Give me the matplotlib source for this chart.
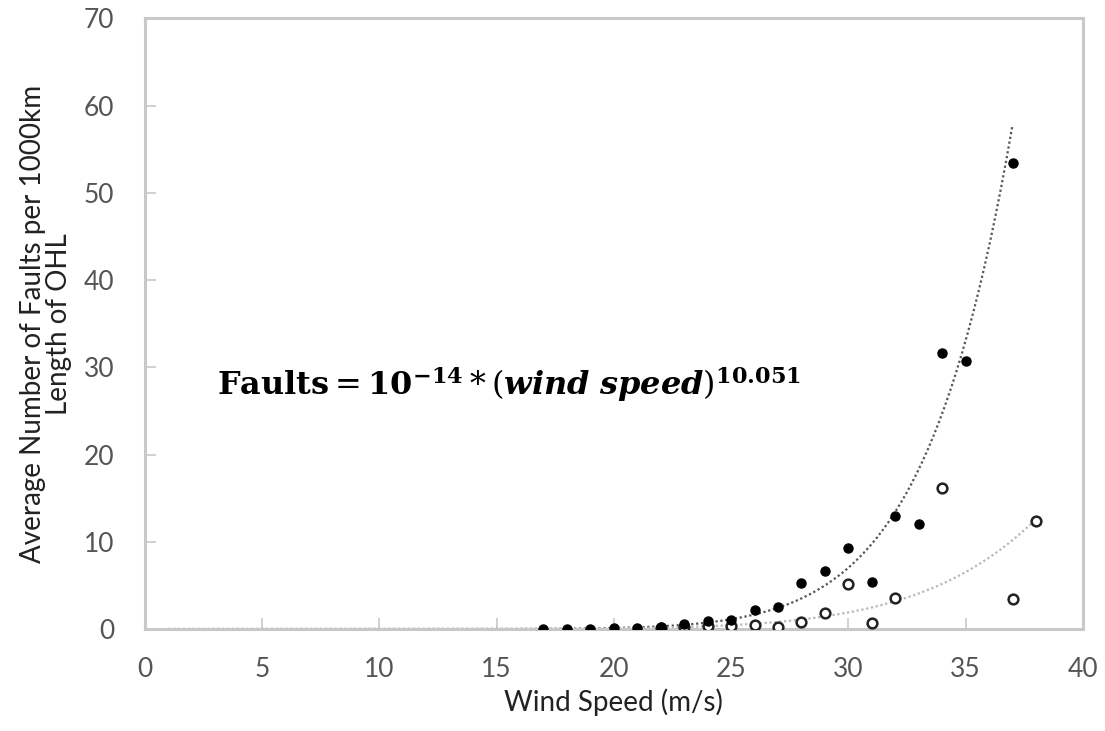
import numpy as np
import matplotlib
matplotlib.use("Agg")
from matplotlib import pyplot as plt

# average faults per 1000 km of OHL against wind speed
speed_all = [17, 18, 19, 20, 21, 22, 23, 24, 25, 26, 27, 28, 29, 30, 31, 32, 33, 34, 35, 37]
faults_all = [0.0, 0.0, 0.0, 0.1, 0.1, 0.2, 0.6, 0.9, 1.0, 2.2, 2.5, 5.3, 6.7, 9.3, 5.4, 13.0, 12.0, 31.6, 30.7, 53.4]

speed_sub = [22, 23, 24, 25, 26, 27, 28, 29, 30, 31, 32, 34, 37, 38]
faults_sub = [0.1, 0.2, 0.3, 0.3, 0.5, 0.2, 0.8, 1.8, 5.2, 0.7, 3.6, 16.2, 3.4, 12.4]

# power-law trend lines: faults = coef * speed ** power
trend_all = (1e-14, 10.051, 1, 37)
trend_sub = (2.9e-12, 8.0, 1, 38)

xticks = [0, 5, 10, 15, 20, 25, 30, 35, 40]
yticks = [0, 10, 20, 30, 40, 50, 60, 70]

plt.rcParams["mathtext.fontset"] = "dejavuserif"

fig = plt.figure(figsize=(11.05, 7.31), dpi=100)
ax = fig.add_axes([0.131, 0.1395, 0.849, 0.8355])

for (coef, power, x0, x1), col in [(trend_all, "#555555"), (trend_sub, "#b8b8b8")]:
    xs = np.linspace(x0, x1, 300)
    ax.plot(xs, coef * xs ** power, color=col, linestyle=(0, (1, 1.2)), linewidth=1.6, zorder=2)

ax.plot(speed_sub, faults_sub, "o", markersize=7, markerfacecolor="white",
        markeredgecolor="#222222", markeredgewidth=1.8, zorder=3)
ax.plot(speed_all, faults_all, "o", markersize=6.5, color="black", zorder=4)

ax.text(3.1, 28, r"$\mathbf{Faults} = \mathbf{10}^{\mathbf{-14}} * (\mathbfit{wind\ speed})^{\mathbf{10.051}}$",
        fontsize=23, color="black", va="center", ha="left")

ax.set_xlim(0, 40)
ax.set_ylim(0, 70)
ax.set_xticks(xticks)
ax.set_yticks(yticks)

for s in ax.spines.values():
    s.set_color("#c8c8c8")
    s.set_linewidth(2.2)
ax.tick_params(direction="in", length=8, width=1.2, color="#c8c8c8",
               labelcolor="#555555", labelsize=19)
ax.tick_params(axis="x", pad=20)
ax.tick_params(axis="y", pad=22)
for lab in ax.get_xticklabels() + ax.get_yticklabels():
    lab.set_family("Lato")

ax.set_xlabel("Wind Speed (m/s)", fontsize=20, family="Lato", color="#222222", labelpad=5)
ax.set_ylabel("Average Number of Faults per 1000km\nLength of OHL", fontsize=20,
              family="Lato", color="#222222", labelpad=8, linespacing=1.0)

fig.savefig("out.png", dpi=100, facecolor="white")
